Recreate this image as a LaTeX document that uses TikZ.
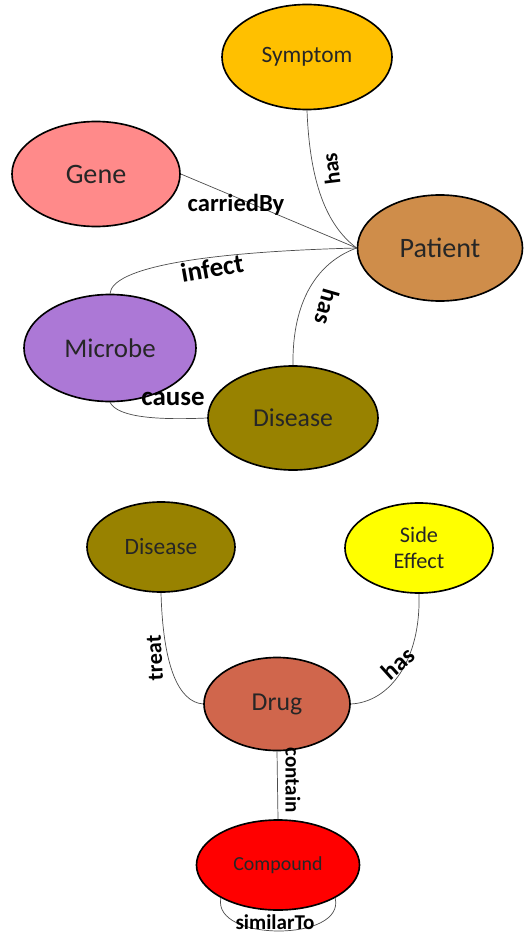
\documentclass[tikz,border=0pt]{standalone}
\usepackage{fontspec}
\setmainfont{Carlito}
\usetikzlibrary{shapes.geometric}
\definecolor{cSym}{RGB}{255,192,0}
\definecolor{cGene}{RGB}{255,138,138}
\definecolor{cPat}{RGB}{207,141,74}
\definecolor{cMic}{RGB}{172,120,214}
\definecolor{cDis}{RGB}{152,130,0}
\definecolor{cSide}{RGB}{255,255,0}
\definecolor{cDrug}{RGB}{208,102,76}
\definecolor{cComp}{RGB}{255,0,0}
\newcommand{\fs}[1]{\fontsize{#1}{#1}\selectfont}
\tikzset{
  ent/.style={ellipse, draw=black, line width=1.4pt, inner sep=0pt, text=black!85, align=center},
  rel/.style={draw=black!70, line width=0.6pt},
  lbl/.style={inner sep=1pt, font=\bfseries, text=black}
}
\begin{document}
\begin{tikzpicture}[x=0.03cm, y=-0.03cm]
\useasboundingbox (0,0) rectangle (531,936);

% entities of the patient graph
\node[ent, fill=cSym,  minimum width=5.1cm,  minimum height=3.15cm, font=\fs{20}] (sym)  at (307,57)  {Symptom};
\node[ent, fill=cGene, minimum width=5.04cm, minimum height=3.15cm, font=\fs{24}] (gene) at (96,174)  {Gene};
\node[ent, fill=cPat,  minimum width=4.95cm, minimum height=3.18cm, font=\fs{24}] (pat)  at (440,248) {Patient};
\node[ent, fill=cMic,  minimum width=5.16cm, minimum height=3.21cm, font=\fs{23}] (mic)  at (110,348) {Microbe};
\node[ent, fill=cDis,  minimum width=5.1cm,  minimum height=3.12cm, font=\fs{22}] (dis)  at (293,418) {Disease};

% entities of the drug graph
\node[ent, fill=cDis,  minimum width=4.44cm, minimum height=2.7cm,  font=\fs{20}] (dis2) at (161,547) {Disease};
\node[ent, fill=cSide, minimum width=4.44cm, minimum height=2.7cm,  font=\fs{19}] (side) at (419,548) {Side\\[3pt]Effect};
\node[ent, fill=cDrug, minimum width=4.38cm, minimum height=2.79cm, font=\fs{22}] (drug) at (277,704) {Drug};
\node[ent, fill=cComp, minimum width=4.89cm, minimum height=2.7cm,  font=\fs{17}] (comp) at (278,865) {Compound};

% relations around the patient
\draw[rel] (sym.south) .. controls (310,190) and (330,228) .. (pat.west);
\node[lbl, font=\bfseries\fs{19}, rotate=97] (lhas1) at (331,169) {has};

\draw[rel] (gene.east) -- (pat.west);
\node[lbl, font=\bfseries\fs{21}] (lcar) at (236,205) {carriedBy};

\draw[rel] (mic.north) .. controls (112,268) and (200,252) .. (pat.west);
\node[lbl, font=\bfseries\fs{23}, rotate=10] (linf) at (212,268) {infect};

\draw[rel] (dis.north) .. controls (292,300) and (318,262) .. (pat.west);
\node[lbl, font=\bfseries\fs{21}, rotate=-106] (lhas2) at (327,307) {has};

\draw[rel] (mic.south) .. controls (118,418) and (160,420) .. (dis.west);
\node[lbl, font=\bfseries\fs{23}] (lcause) at (173,399) {cause};

% relations around the drug
\draw[rel] (dis2.south) .. controls (163,665) and (178,702) .. (drug.west);
\node[lbl, font=\bfseries\fs{19}, rotate=93] (ltreat) at (155,658) {treat};

\draw[rel] (side.south) .. controls (421,660) and (390,702) .. (drug.east);
\node[lbl, font=\bfseries\fs{21}, rotate=42] (lhas3) at (398,663) {has};

\draw[rel] (drug.south) -- (comp.north);
\node[lbl, font=\bfseries\fs{18}, rotate=-90] (lcont) at (293,780) {contain};

\draw[rel] (comp.210) .. controls (212,942) and (346,942) .. (comp.330);
\node[lbl, font=\bfseries\fs{18}] (lsim) at (275,922) {similarTo};
\end{tikzpicture}
\end{document}
